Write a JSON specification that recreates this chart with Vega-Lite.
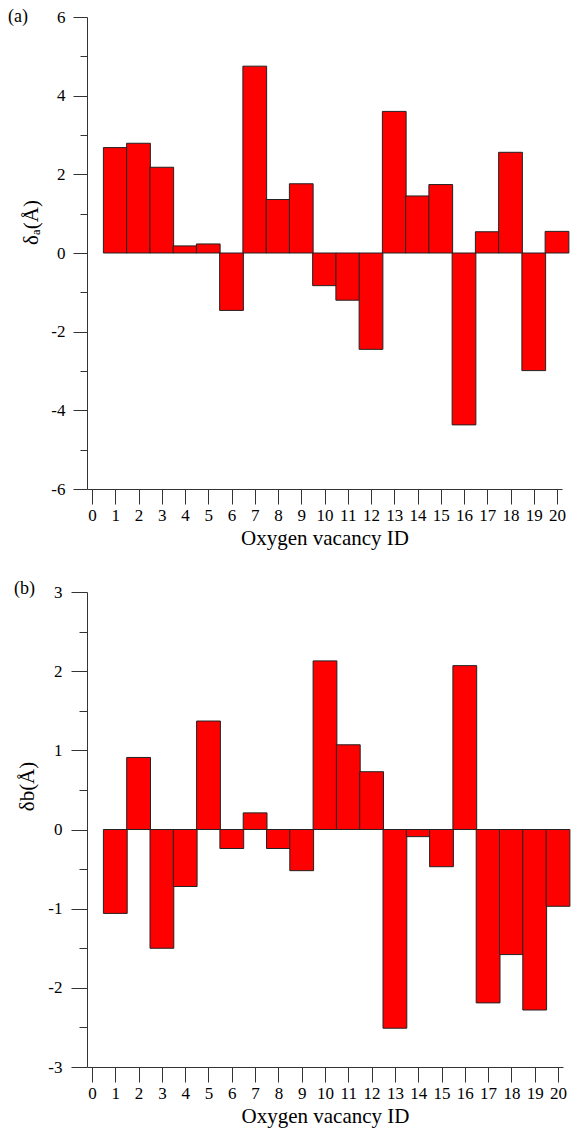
{
  "$schema": "https://vega.github.io/schema/vega-lite/v6.json",
  "padding": {"top": 8, "left": 8, "right": 5, "bottom": 5},
  "spacing": 32,
  "data": {"values": [
    {"id": 1, "da": 2.68, "db": -1.06},
    {"id": 2, "da": 2.79, "db": 0.91},
    {"id": 3, "da": 2.18, "db": -1.5},
    {"id": 4, "da": 0.18, "db": -0.72},
    {"id": 5, "da": 0.23, "db": 1.37},
    {"id": 6, "da": -1.46, "db": -0.24},
    {"id": 7, "da": 4.75, "db": 0.21},
    {"id": 8, "da": 1.36, "db": -0.24},
    {"id": 9, "da": 1.76, "db": -0.52},
    {"id": 10, "da": -0.83, "db": 2.13},
    {"id": 11, "da": -1.2, "db": 1.07},
    {"id": 12, "da": -2.45, "db": 0.73},
    {"id": 13, "da": 3.6, "db": -2.51},
    {"id": 14, "da": 1.45, "db": -0.09},
    {"id": 15, "da": 1.74, "db": -0.47},
    {"id": 16, "da": -4.37, "db": 2.07},
    {"id": 17, "da": 0.54, "db": -2.19},
    {"id": 18, "da": 2.56, "db": -1.58},
    {"id": 19, "da": -2.99, "db": -2.28},
    {"id": 20, "da": 0.55, "db": -0.97}
  ]},
  "vconcat": [
    {
      "width": 475,
      "height": 472,
      "title": {"text": "(a)", "anchor": "start", "frame": "group", "orient": "top", "baseline": "middle", "align": "left", "offset": -27, "dx": -79, "dy": 0, "fontSize": 18, "font": "Liberation Serif", "fontWeight": "normal", "color": "#000"},
      "mark": {"type": "bar", "width": 23.75, "fill": "#ff0000", "stroke": "#222", "strokeWidth": 1},
      "encoding": {
        "x": {"field": "id", "type": "quantitative", "scale": {"domain": [0, 20], "nice": false, "zero": false},
          "axis": {"title": "Oxygen vacancy ID", "values": [0,1,2,3,4,5,6,7,8,9,10,11,12,13,14,15,16,17,18,19,20], "labelExpr": "'' + datum.value", "tickSize": 15, "labelPadding": 3, "titlePadding": 4, "labelFlush": false, "labelOverlap": false}},
        "y": {"field": "da", "type": "quantitative", "scale": {"domain": [-6, 6], "nice": false},
          "axis": {"title": "δₐ(Å)", "values": [-6,-5,-4,-3,-2,-1,0,1,2,3,4,5,6],
            "labelExpr": "datum.value % 2 === 0 ? '' + datum.value : ''",
            "tickSize": {"condition": {"test": "datum.value % 2 === 0", "value": 14}, "value": 7},
            "labelPadding": 8, "titleX": -56, "titleY": 205, "titleAlign": "center", "titleBaseline": "middle", "labelOverlap": false}}
      }
    },
    {
      "width": 476,
      "height": 475,
      "title": {"text": "(b)", "anchor": "start", "frame": "group", "orient": "top", "baseline": "middle", "align": "left", "offset": -27, "dx": -73, "dy": -3, "fontSize": 18, "font": "Liberation Serif", "fontWeight": "normal", "color": "#000"},
      "mark": {"type": "bar", "width": 23.8, "fill": "#ff0000", "stroke": "#222", "strokeWidth": 1},
      "encoding": {
        "x": {"field": "id", "type": "quantitative", "scale": {"domain": [0, 20], "nice": false, "zero": false},
          "axis": {"title": "Oxygen vacancy ID", "values": [0,1,2,3,4,5,6,7,8,9,10,11,12,13,14,15,16,17,18,19,20], "labelExpr": "'' + datum.value", "tickSize": 15, "labelPadding": 3, "titlePadding": 4, "labelFlush": false, "labelOverlap": false}},
        "y": {"field": "db", "type": "quantitative", "scale": {"domain": [-3, 3], "nice": false},
          "axis": {"title": "δb(Å)", "values": [-3,-2.5,-2,-1.5,-1,-0.5,0,0.5,1,1.5,2,2.5,3],
            "labelExpr": "datum.value % 1 === 0 ? '' + datum.value : ''",
            "tickSize": {"condition": {"test": "datum.value % 1 === 0", "value": 16}, "value": 8},
            "labelPadding": 9, "titleX": -60, "titleY": 194, "titleAlign": "center", "titleBaseline": "middle", "labelOverlap": false}}
      }
    }
  ],
  "config": {
    "view": {"stroke": null},
    "font": "Liberation Serif",
    "axis": {"grid": false, "domainColor": "#333", "tickColor": "#333", "domainWidth": 1, "tickWidth": 1, "labelColor": "#000", "titleColor": "#000", "labelFont": "Liberation Serif", "titleFont": "Liberation Serif", "labelFontSize": 17, "titleFontSize": 21, "titleFontWeight": "normal"}
  }
}
